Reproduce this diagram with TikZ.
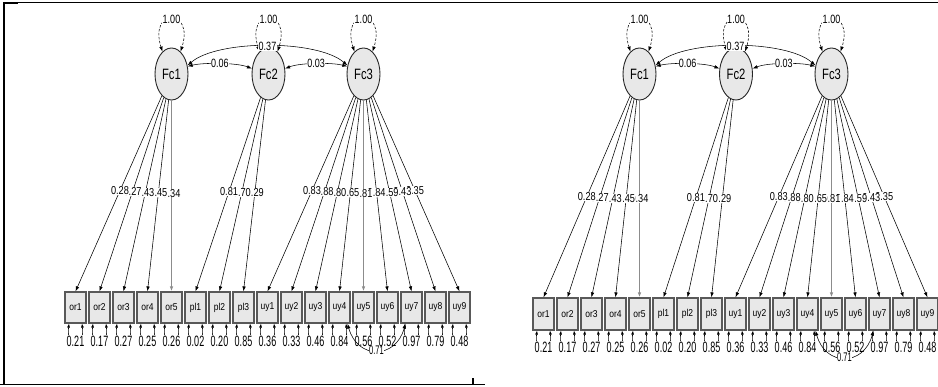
\documentclass[tikz,border=0pt]{standalone}
\usepackage{fontspec}
\setmainfont{Liberation Sans}
\newfontfamily\fRes{Liberation Sans}[FakeStretch=0.6]
\newfontfamily\fLd{Liberation Sans}[FakeStretch=0.8]
\newfontfamily\fBox{Liberation Sans}[FakeStretch=0.85]
\newfontfamily\fLat{Liberation Sans}[FakeStretch=0.75]
\usetikzlibrary{arrows.meta,shapes.geometric}
\tikzset{
  lat/.style={ellipse, draw=black!85, line width=0.9pt, fill=black!9,
    minimum width=33pt, minimum height=52pt, inner sep=0pt,
    font=\fLat\fontsize{15}{15}\selectfont},
  obs/.style={rectangle, draw=black!65, line width=1.2pt, fill=black!9,
    minimum width=21pt, inner sep=0pt, font=\fBox\fontsize{10}{10}\selectfont},
  ld/.style={-{Latex[length=5pt,width=3.5pt]}, line width=0.55pt, draw=black},
  fixld/.style={-{Latex[length=5pt,width=3.5pt]}, line width=1.1pt, draw=black!45},
  cov/.style={{Latex[length=5pt,width=3.5pt]}-{Latex[length=5pt,width=3.5pt]}, line width=0.55pt, draw=black},
  vloop/.style={{Latex[length=5pt,width=3.5pt]}-{Latex[length=5pt,width=3.5pt]}, dash pattern=on 2.5pt off 1.5pt, line width=0.55pt, draw=black},
  rloop/.style={{Latex[length=4pt,width=3pt]}-{Latex[length=4pt,width=3pt]}, line width=0.55pt, draw=black},
  lbl/.style={fill=white, inner sep=0.3pt, font=\fLd\fontsize{11.5}{11.5}\selectfont},
  clbl/.style={fill=white, inner sep=0.3pt, font=\fLat\fontsize{12}{12}\selectfont},
  rlbl/.style={fill=white, inner sep=0.3pt, font=\fRes\fontsize{15}{15}\selectfont},
}
\begin{document}
\begin{tikzpicture}[x=1pt,y=-1pt]
\useasboundingbox (0,0) rectangle (938,386);
% frame
\draw[line width=1.2pt] (3,2.8) -- (938,2.8);
\draw[line width=2.2pt] (3,3) -- (18,3);
\draw[line width=2.2pt] (4.2,2) -- (4.2,384);
\draw[line width=1.3pt] (0,384.3) -- (485,384.3);
\draw[line width=1.8pt] (473,378) -- (473,385);
\foreach \p/\ox/\fa/\fb/\fc/\by/\bh/\lp/\ry/\cy in
  {L/0/171.5/268.5/363.5/307.5/31/0.485/341/349,
   R/468/639.5/736/831.5/314/32/0.5/347/357}{
  \node[lat] (\p-Fc1) at (\fa,74) {Fc1};
  \node[lat] (\p-Fc2) at (\fb,74) {Fc2};
  \node[lat] (\p-Fc3) at (\fc,74) {Fc3};
  \foreach \i/\n in {1/or1,2/or2,3/or3,4/or4,5/or5,6/pl1,7/pl2,8/pl3,
      9/uy1,10/uy2,11/uy3,12/uy4,13/uy5,14/uy6,15/uy7,16/uy8,17/uy9}{
    \pgfmathsetmacro\bx{\ox+75.5+24*(\i-1)}
    \node[obs, minimum height=\bh pt] (\p-b\i) at (\bx,\by) {\n};
  }
  % variances of latents
  \foreach \f in {Fc1,Fc2,Fc3}{
    \draw[vloop] (\p-\f.112) .. controls +(-14,-44) and +(14,-44) .. (\p-\f.68);
    \path (\p-\f.north) ++(0,-28) node[clbl] {1.00};
  }
  % covariances
  \draw[cov] (\p-Fc1.28) .. controls +(30,-26) and +(-30,-26) .. (\p-Fc3.152)
     node[pos=0.5, clbl] {0.37};
  \draw[cov] (\p-Fc1.25) .. controls +(15,-4) and +(-15,-6) .. (\p-Fc2.162)
     node[pos=0.5, clbl] {0.06};
  \draw[cov] (\p-Fc2.18) .. controls +(15,-6) and +(-15,-4) .. (\p-Fc3.155)
     node[pos=0.5, clbl] {0.03};
  % loadings
  \foreach \i/\f/\s in {1/Fc1/ld,2/Fc1/ld,3/Fc1/ld,4/Fc1/ld,5/Fc1/fixld,
      6/Fc2/ld,7/Fc2/ld,8/Fc2/ld,9/Fc3/ld,10/Fc3/ld,11/Fc3/ld,12/Fc3/ld,
      13/Fc3/fixld,14/Fc3/ld,15/Fc3/ld,16/Fc3/ld,17/Fc3/ld}{
    \draw[\s] (\p-\f) -- (\p-b\i.north);
  }
  \foreach \i/\f/\l in {17/Fc3/0.35,16/Fc3/0.43,15/Fc3/0.59,14/Fc3/0.84,
      13/Fc3/0.81,12/Fc3/0.65,11/Fc3/0.80,10/Fc3/0.88,9/Fc3/0.83,
      8/Fc2/0.29,7/Fc2/0.70,6/Fc2/0.81,
      5/Fc1/0.34,4/Fc1/0.45,3/Fc1/0.43,2/Fc1/0.27,1/Fc1/0.28}{
    \path (\p-\f) -- (\p-b\i.north) node[lbl, pos=\lp] {\l};
  }
  % residuals
  \foreach \i/\r in {1/0.21,2/0.17,3/0.27,4/0.25,5/0.26,6/0.02,7/0.20,8/0.85,
      9/0.36,10/0.33,11/0.46,12/0.84,13/0.56,14/0.52,15/0.97,16/0.79,17/0.48}{
    \pgfmathsetmacro\bx{\ox+75.5+24*(\i-1)}
    \draw[rloop] ([xshift=-6.5pt]\p-b\i.south) .. controls +(-3,26) and +(3,26) .. ([xshift=6.5pt]\p-b\i.south);
    \node[rlbl] at (\bx,\ry) {\r};
  }
  \draw[cov] ([xshift=8pt]\p-b12.south) .. controls +(10,36) and +(-10,36) .. ([xshift=-6pt]\p-b15.south)
     node[pos=0.5, rlbl, font=\fRes\fontsize{12.5}{12.5}\selectfont] {0.71};
}
\end{tikzpicture}
\end{document}
